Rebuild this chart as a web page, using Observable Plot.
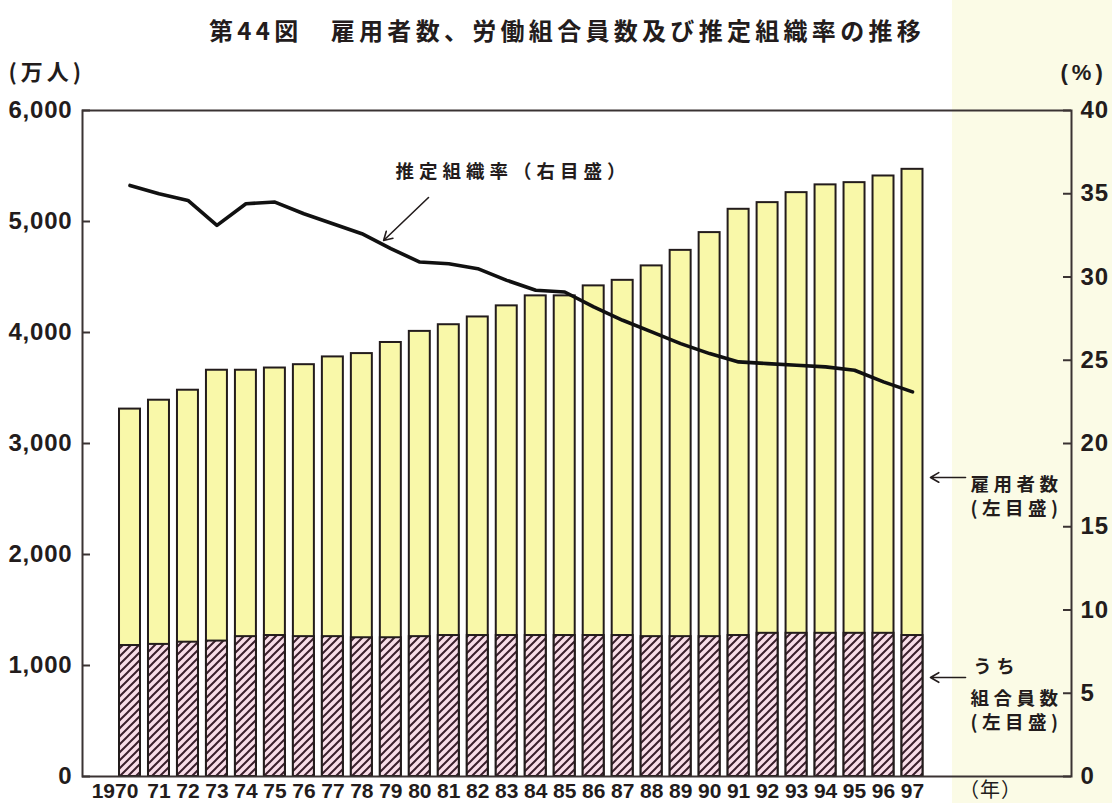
<!DOCTYPE html>
<html><head><meta charset="utf-8">
<script src="https://cdn.jsdelivr.net/npm/d3@7"></script>
<script src="https://cdn.jsdelivr.net/npm/@observablehq/plot@0.6"></script>
<style>
html,body{margin:0;padding:0;}
body{width:1112px;height:803px;overflow:hidden;background:linear-gradient(to right,#ffffff 0,#ffffff 952px,#fbfbe6 952px,#fbfbe6 100%);}
svg{display:block;}
</style></head><body><div id="chart"></div>
<script>
// ---- data ----
const years = [1970,1971,1972,1973,1974,1975,1976,1977,1978,1979,1980,1981,1982,1983,1984,1985,1986,1987,1988,1989,1990,1991,1992,1993,1994,1995,1996,1997];
const xLabels = ["1970","71","72","73","74","75","76","77","78","79","80","81","82","83","84","85","86","87","88","89","90","91","92","93","94","95","96","97"];
// 雇用者数 (万人)
const employees = [3310,3390,3480,3660,3660,3680,3710,3780,3810,3910,4010,4070,4140,4240,4330,4330,4420,4470,4600,4740,4900,5110,5170,5260,5330,5350,5410,5470];
// うち組合員数 (万人)
const members = [1180,1190,1210,1220,1260,1270,1260,1260,1250,1250,1260,1270,1270,1270,1270,1270,1270,1270,1260,1260,1260,1270,1290,1290,1290,1290,1290,1270];
// 推定組織率 (%)
const rate = [35.5,35.0,34.6,33.1,34.4,34.5,33.8,33.2,32.6,31.7,30.9,30.8,30.5,29.8,29.2,29.1,28.2,27.4,26.7,26.0,25.4,24.9,24.8,24.7,24.6,24.4,23.7,23.1];
const leftTicks = [0,1000,2000,3000,4000,5000,6000];
const rightTicks = [0,5,10,15,20,25,30,35,40];

const title = "第44図　雇用者数、労働組合員数及び推定組織率の推移";
const leftUnit = "(万人)";
const rightUnit = "(%)";
const yearUnit = "（年）";

// annotation anchors (x in years, y in left-axis units)
const rateNote = {x: 1979.16, y: 5441, text: "推定組織率（右目盛）"};
const rateArrow = {x1: 1980.3, y1: 5216, x2: 1978.75, y2: 4829};
const empNote = {x: 1999.0, y: 2536, text: "雇用者数\n(左目盛)"};
const empArrow = {x1: 1998.83, y1: 2694, x2: 1997.62, y2: 2694};
const memNote1 = {x: 1999.1, y: 1000, text: "うち"};
const memNote2 = {x: 1999.0, y: 608, text: "組合員数\n(左目盛)"};
const memArrow = {x1: 1998.83, y1: 892, x2: 1997.62, y2: 892};
const yearUnitX = 1999.69;

const K = 6000 / 40; // right axis (%) -> left axis units
const data = years.map((year, i) => ({year, label: xLabels[i], employees: employees[i], members: members[i], rate: rate[i]}));

const CJK = "'Noto Sans CJK JP', 'Noto Sans', sans-serif";
const NUM = "'Liberation Sans', Arial, Helvetica, sans-serif";
const NARROW = "'Liberation Sans Narrow', 'Arial Narrow', 'Liberation Sans', sans-serif";
const ink = "#231c1c";

const chart = Plot.plot({
  width: 1112, height: 803,
  marginLeft: 82, marginRight: 41, marginTop: 110, marginBottom: 27,
  style: {background: "transparent", fontFamily: NUM, color: ink, overflow: "visible"},
  x: {domain: [1970, 1997], range: [129.5, 912], axis: null},
  y: {domain: [0, 6000], axis: null},
  marks: [
    Plot.rectY(data, {x1: d => d.year - 0.5, x2: d => d.year + 0.5, y: "employees", fill: "#f9f8a9", stroke: ink, strokeWidth: 2, insetLeft: 4, insetRight: 4}),
    Plot.rectY(data, {x1: d => d.year - 0.5, x2: d => d.year + 0.5, y: "members", fill: "url(#hatch)", stroke: ink, strokeWidth: 2, insetLeft: 4, insetRight: 4}),
    Plot.line(data, {x: "year", y: d => d.rate * K, stroke: "#111", strokeWidth: 3.6, strokeLinejoin: "round"}),
    Plot.frame({stroke: "#3a3333", strokeWidth: 2}),
    Plot.ruleY(leftTicks, {y: d => d, insetRight: 981, stroke: "#3a3333", strokeWidth: 2}),
    Plot.ruleY(rightTicks.map(d => d * K), {y: d => d, insetLeft: 981, stroke: "#3a3333", strokeWidth: 2}),
    Plot.axisY(leftTicks, {anchor: "left", tickSize: 0, tickPadding: 10, tickFormat: d3.format(","), label: null, fontSize: 24, fontWeight: "bold", fill: ink}),
    Plot.axisY(rightTicks.map(d => d * K), {anchor: "right", tickSize: 0, tickPadding: 9, tickFormat: d => d / K, label: null, fontSize: 24, fontWeight: "bold", fill: ink}),
    Plot.text(data.slice(1), {x: "year", text: "label", frameAnchor: "bottom", dy: 15, lineAnchor: "middle", fontSize: 21, fontFamily: NARROW, fontWeight: "bold", fill: ink}),
    Plot.text(data.slice(0, 1), {x: "year", text: "label", frameAnchor: "bottom", dy: 15, dx: -15, lineAnchor: "middle", fontSize: 21, fontFamily: NARROW, fontWeight: "bold", fill: ink}),
    Plot.text([yearUnit], {x: () => yearUnitX, text: d => d, frameAnchor: "bottom", dy: 14, lineAnchor: "middle", fontSize: 20, fontFamily: CJK, fill: ink}),
    Plot.text([title], {frameAnchor: "top", dx: -10, dy: -78, lineAnchor: "middle", text: d => d, fontSize: 24, fontWeight: "bold", fontFamily: CJK, fill: ink}),
    Plot.text([leftUnit], {frameAnchor: "top-left", dx: -74, dy: -38, lineAnchor: "middle", textAnchor: "start", text: d => d, fontSize: 22, fontWeight: "bold", fontFamily: CJK, fill: ink}),
    Plot.text([rightUnit], {frameAnchor: "top-right", dx: -11, dy: -38, lineAnchor: "middle", textAnchor: "start", text: d => d, fontSize: 22, fontWeight: "bold", fontFamily: NUM, fill: ink}),
    Plot.text([rateNote], {x: "x", y: "y", text: "text", textAnchor: "start", lineAnchor: "middle", fontSize: 18.5, fontWeight: "bold", fontFamily: CJK, fill: ink}),
    Plot.text([empNote, memNote1, memNote2], {x: "x", y: "y", text: "text", textAnchor: "start", lineAnchor: "middle", lineHeight: 1.3, fontSize: 18.5, fontWeight: "bold", fontFamily: CJK, fill: ink}),
    Plot.arrow([rateArrow, empArrow, memArrow], {x1: "x1", y1: "y1", x2: "x2", y2: "y2", stroke: ink, strokeWidth: 1.6, headLength: 9})
  ]
});

const svg = d3.select(chart);
const defs = svg.insert("defs", ":first-child");
const pat = defs.append("pattern").attr("id", "hatch").attr("patternUnits", "userSpaceOnUse").attr("width", 8).attr("height", 8);
pat.append("rect").attr("width", 8).attr("height", 8).attr("fill", "#f8dde8");
pat.append("path").attr("d", "M-2,2 L2,-2 M0,8 L8,0 M6,10 L10,6").attr("stroke", "#3a1f2c").attr("stroke-width", 2);

// letter spacing by text content
const spacing = new Map([
  [title, "4.3px"],
  [rateNote.text, "5px"],
  [leftUnit, "4px"],
  [rightUnit, "4px"],
  [yearUnit, "1px"]
]);
svg.selectAll("text").each(function() {
  const t = this.textContent;
  if (spacing.has(t)) this.setAttribute("letter-spacing", spacing.get(t));
  else if (/[\u3040-\u9fff]/.test(t)) this.setAttribute("letter-spacing", "4.5px");
  else if (/^[\d,]+$/.test(t) && this.closest('g[aria-label="y-axis tick label"]')) this.setAttribute("letter-spacing", "0.8px");
});
document.getElementById("chart").appendChild(chart);
</script>
</body></html>
